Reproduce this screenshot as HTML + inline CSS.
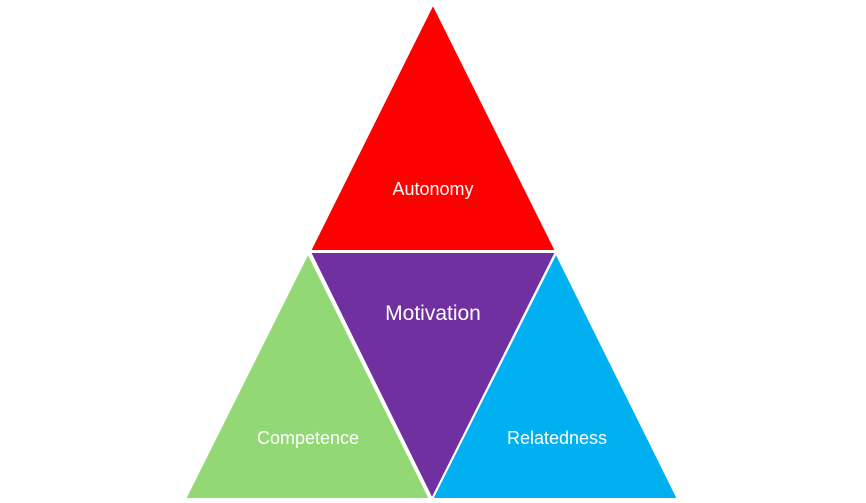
<!DOCTYPE html><html><head><style>body{margin:0;background:#fff}</style></head><body>
<svg width="866" height="503" xmlns="http://www.w3.org/2000/svg" style="display:block">
<g stroke="#fff" stroke-width="2" stroke-linejoin="miter">
<polygon points="433,4 310,251 556,251" fill="#ff0000"/>
<polygon points="308,253 185,499 430,499" fill="#92d975"/>
<polygon points="556,253 432,499 678,499" fill="#00b0f0"/>
<polygon points="310,252 556,252 432,499" fill="#7030a0"/>
</g>
<g font-family="Liberation Sans, sans-serif" fill="#fff" text-anchor="middle">
<text x="433" y="195" font-size="18">Autonomy</text>
<text x="433" y="320" font-size="21">Motivation</text>
<text x="308" y="444" font-size="18">Competence</text>
<text x="557" y="444" font-size="18">Relatedness</text>
</g>
</svg>
</body></html>
